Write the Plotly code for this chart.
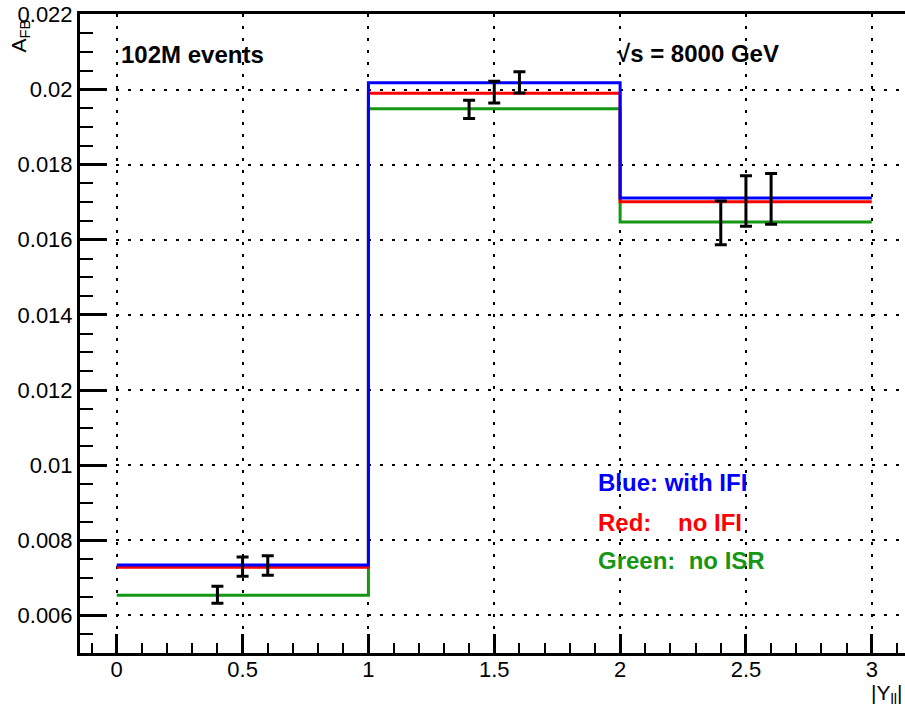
import plotly.graph_objects as go

# ---- data ----
bin_edges = [0, 1, 2, 3]
blue_vals = [0.00734, 0.02018, 0.01711]    # with IFI
red_vals = [0.00728, 0.01990, 0.01701]     # no IFI
green_vals = [0.00654, 0.01949, 0.01647]   # no ISR

pts_a_x = [0.4, 1.4, 2.4]
pts_a_y = [0.00655, 0.01947, 0.01645]
pts_a_e = [0.000226, 0.000244, 0.000584]

pts_b_x = [0.5, 1.5, 2.5]
pts_b_y = [0.00730, 0.01993, 0.01703]
pts_b_e = [0.000256, 0.000287, 0.000672]

pts_c_x = [0.6, 1.6, 2.6]
pts_c_y = [0.00733, 0.02019, 0.01709]
pts_c_e = [0.000257, 0.000280, 0.000677]

BLUE = "#0000ff"
RED = "#ff0000"
GREEN = "#159615"
FONT = "Liberation Sans, Arial, Helvetica, sans-serif"

fig = go.Figure()


def step_y(vals):
    return list(vals) + [vals[-1]]


for vals, col in [(green_vals, GREEN), (red_vals, RED), (blue_vals, BLUE)]:
    fig.add_trace(go.Scatter(
        x=bin_edges, y=step_y(vals), mode="lines",
        line=dict(color=col, width=3, shape="hv"),
        showlegend=False, hoverinfo="skip"))

for px, py, pe in [(pts_a_x, pts_a_y, pts_a_e),
                   (pts_b_x, pts_b_y, pts_b_e),
                   (pts_c_x, pts_c_y, pts_c_e)]:
    fig.add_trace(go.Scatter(
        x=px, y=py, mode="markers",
        marker=dict(size=1, color="black"),
        error_y=dict(type="data", array=pe, visible=True,
                     color="black", thickness=3, width=6),
        showlegend=False))

grid = dict(showgrid=True, gridcolor="black", gridwidth=2, griddash="3px,9px")

fig.update_xaxes(
    range=[-0.146, 3.132], dtick=0.5, tick0=0,
    ticks="inside", ticklen=19, tickwidth=3, tickcolor="black",
    minor=dict(ticks="inside", ticklen=10, tickwidth=2, tickcolor="black",
               dtick=0.1, showgrid=False),
    showline=True, linewidth=3, linecolor="black", mirror=True,
    zeroline=False, ticklabelstandoff=-5, ticklabeloverflow="allow",
    tickfont=dict(family=FONT, size=22, color="black"),
    **grid)

fig.update_yaxes(
    range=[0.005, 0.02201], dtick=0.002, tick0=0,
    ticks="inside", ticklen=27, tickwidth=3, tickcolor="black",
    minor=dict(ticks="inside", ticklen=13, tickwidth=2, tickcolor="black",
               dtick=0.0005, showgrid=False),
    showline=True, linewidth=3, linecolor="black", mirror=False,
    zeroline=False, ticklabeloverflow="allow",
    tickfont=dict(family=FONT, size=22, color="black"),
    **grid)

bold = dict(family=FONT, size=24, weight="bold")
ann = [
    dict(text="102M events", x=0.009, y=0.02093, font=dict(color="black", **bold)),
    dict(text="√s = 8000 GeV", x=1.981, y=0.02095, font=dict(color="black", **bold)),
    dict(text="Blue: with IFI", x=1.904, y=0.009527, font=dict(color=BLUE, **bold)),
    dict(text="Red:\u00a0\u00a0\u00a0\u00a0no IFI", x=1.904, y=0.008478, font=dict(color=RED, **bold)),
    dict(text="Green:\u00a0\u00a0no ISR", x=1.904, y=0.007456, font=dict(color=GREEN, **bold)),
]
for a in ann:
    fig.add_annotation(xref="x", yref="y", xanchor="left", yanchor="middle",
                       showarrow=False, **a)

fig.add_annotation(text="A<sub>FB</sub>", xref="paper", yref="paper",
                   x=(5 - 80) / 825, y=(653 - 18) / 639,
                   xanchor="left", yanchor="top", textangle=-90,
                   showarrow=False, font=dict(family=FONT, size=21, color="black"))
fig.add_annotation(text="|Y<sub>ll</sub>|", xref="paper", yref="paper",
                   x=(904 - 80) / 825, y=-(679 - 653) / 639,
                   xanchor="right", yanchor="top",
                   showarrow=False, font=dict(family=FONT, size=21, color="black"))

fig.update_layout(
    width=905, height=717,
    margin=dict(l=80, r=0, t=14, b=64),
    paper_bgcolor="white", plot_bgcolor="white",
    showlegend=False,
)

# remove the browser's default 8px body margin so the figure fills the window
fig.write_html("out.html",
               config={"displayModeBar": False},
               post_script="document.body.style.margin='0px';"
                           "document.body.style.overflow='hidden';")
